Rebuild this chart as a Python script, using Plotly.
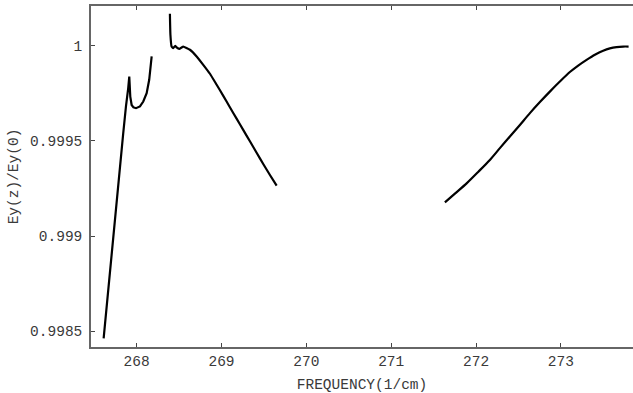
import plotly.graph_objects as go

# Segment 1 (low-frequency branch)
seg1_x = [267.611, 267.697, 267.756, 267.803, 267.842, 267.874, 267.886, 267.901, 267.913,
          267.917, 267.925, 267.941, 267.962, 267.992, 268.039, 268.078, 268.118, 268.148,
          268.163, 268.177]
seg1_y = [0.998462, 0.998874, 0.999163, 0.999390, 0.999541, 0.999681, 0.999716, 0.999779, 0.999838,
          0.999789, 0.999733, 0.999689, 0.999676, 0.999672, 0.999681, 0.999707, 0.999751, 0.999821,
          0.999879, 0.999944]

# Segment 2 (middle branch)
seg2_x = [268.392, 268.398, 268.412, 268.431, 268.455, 268.471, 268.502, 268.530, 268.549,
          268.628, 268.707, 268.785, 268.864, 268.943, 269.021, 269.099, 269.178, 269.256,
          269.335, 269.414, 269.492, 269.571, 269.650]
seg2_y = [1.000168, 1.000058, 0.999996, 0.999988, 1.000000, 0.999991, 0.999984, 0.999991, 0.999996,
          0.999979, 0.999944, 0.999900, 0.999853, 0.999795, 0.999737, 0.999677, 0.999617, 0.999558,
          0.999498, 0.999438, 0.999379, 0.999321, 0.999265]

# Segment 3 (high-frequency branch)
seg3_x = [271.633, 271.751, 271.889, 272.025, 272.163, 272.281, 272.399, 272.517, 272.635,
          272.753, 272.870, 272.988, 273.106, 273.204, 273.303, 273.401, 273.498, 273.577,
          273.656, 273.734, 273.798]
seg3_y = [0.999177, 0.999223, 0.999277, 0.999337, 0.999400, 0.999462, 0.999523, 0.999584, 0.999646,
          0.999704, 0.999759, 0.999812, 0.999862, 0.999896, 0.999926, 0.999953, 0.999974, 0.999986,
          0.999993, 0.999996, 0.999996]

x_ticks = [268, 269, 270, 271, 272, 273]
y_ticks = [0.9985, 0.999, 0.9995, 1]
y_tick_labels = ["0.9985", "0.999", "0.9995", "1"]

fig = go.Figure()
fig.add_trace(go.Scatter(x=seg1_x, y=seg1_y, mode="lines",
                         line=dict(color="black", width=2.2),
                         showlegend=False, hoverinfo="skip"))
fig.add_trace(go.Scatter(x=seg2_x, y=seg2_y, mode="lines",
                         line=dict(color="black", width=2.2, shape="spline", smoothing=0.4),
                         showlegend=False, hoverinfo="skip"))
fig.add_trace(go.Scatter(x=seg3_x, y=seg3_y, mode="lines",
                         line=dict(color="black", width=2.2, shape="spline", smoothing=0.8),
                         showlegend=False, hoverinfo="skip"))

font = dict(family="Liberation Mono, Courier New, monospace", size=14.5, color="#3a3a3a")
fig.update_layout(
    width=633, height=393,
    margin=dict(l=91, r=0, t=6, b=46),
    paper_bgcolor="white", plot_bgcolor="white",
    font=font,
    xaxis=dict(range=[267.462, 273.85], tickvals=x_ticks, ticks="inside", ticklen=4,
               tickcolor="#444", showline=True, linecolor="#666", linewidth=1.6,
               mirror="ticks", showgrid=False, zeroline=False,
               title=dict(text="FREQUENCY(1/cm)", standoff=10, font=font)),
    yaxis=dict(range=[0.998417, 1.000209], tickvals=y_ticks, ticktext=y_tick_labels,
               ticks="inside", ticklen=4, tickcolor="#444", showline=True, linecolor="#666",
               linewidth=1.6, mirror=False, showgrid=False, zeroline=False,
               ticklabelstandoff=4,
               title=dict(text="Ey(z)/Ey(0)", standoff=8, font=font)),
)
fig.write_html("out.html")
